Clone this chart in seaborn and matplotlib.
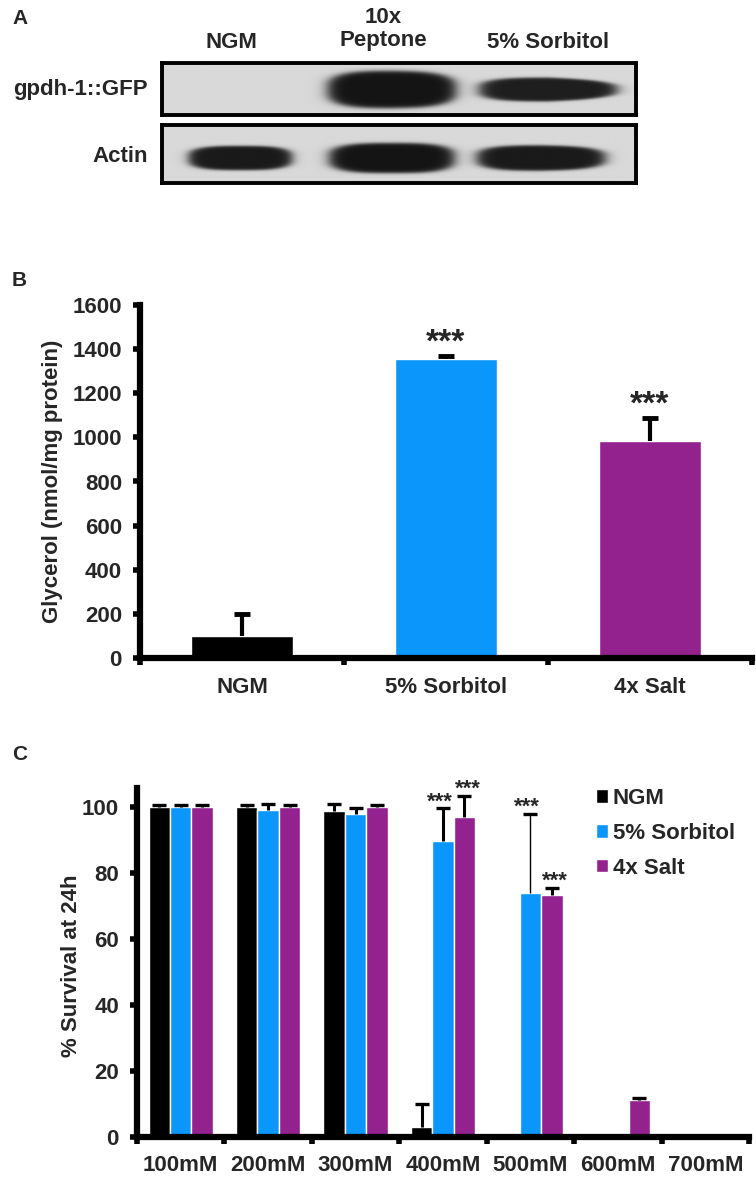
import numpy as np
import pandas as pd
import seaborn as sns
import matplotlib.pyplot as plt

# ---------------- data ----------------
# A: western blot, band darkness per lane (NGM, 10x Peptone, 5% Sorbitol)
blot_lanes = ["NGM", "10x\nPeptone", "5% Sorbitol"]
blot_rows = ["gpdh-1::GFP", "Actin"]
gfp_dark = [0.0, 1.0, 0.95]
gfp_halfwidth = [0.40, 0.41, 0.44]
gfp_halfheight = [0.30, 0.36, 0.23]
gfp_taper = [0.0, 0.05, 0.25]
gfp_shift = [0.0, 0.0, 0.0]
actin_dark = [0.97, 1.0, 0.97]
actin_halfwidth = [0.33, 0.40, 0.41]
actin_halfheight = [0.21, 0.26, 0.22]
actin_taper = [0.0, 0.0, 0.1]
actin_shift = [0.03, 0.0, -0.045]

# B: glycerol
b_conditions = ["NGM", "5% Sorbitol", "4x Salt"]
b_glycerol = [100, 1355, 983]
b_err = [100, 14, 105]

# C: survival at 24h
c_conc = ["100mM", "200mM", "300mM", "400mM", "500mM", "600mM", "700mM"]
c_groups = ["NGM", "5% Sorbitol", "4x Salt"]
ngm_surv = [100, 100, 98.7, 3.1, 0, 0, 0]
ngm_err = [0.5, 0.5, 2.1, 7.0, 0, 0, 0]
sorb_surv = [100, 99.0, 97.8, 89.8, 73.9, 0, 0]
sorb_err = [0.5, 2.0, 2.0, 9.8, 24.0, 0, 0]
salt_surv = [100, 100, 100, 96.9, 73.3, 11.3, 0]
salt_err = [0.5, 0.5, 0.5, 6.5, 2.2, 0.4, 0]
c_stars = [("400mM", "5% Sorbitol"), ("400mM", "4x Salt"),
           ("500mM", "5% Sorbitol"), ("500mM", "4x Salt")]

colors = ["#000000", "#0A96FA", "#93228E"]

# ---------------- style ----------------
sns.set_style("ticks")
plt.rcParams['font.family'] = ['Liberation Sans', 'DejaVu Sans']
plt.rcParams['font.weight'] = 'bold'
plt.rcParams['axes.labelweight'] = 'bold'

W, H = 756, 1179
fig = plt.figure(figsize=(W / 100, H / 100), dpi=100)


def px_axes(x0, y0, x1, y1):
    return fig.add_axes([x0 / W, 1 - y1 / H, (x1 - x0) / W, (y1 - y0) / H])


def blot_image(dark, hw, hh, taper, shift, yc):
    xs = np.linspace(-0.47, 2.56, 700)
    ys = np.linspace(0, 1, 120)
    X, Y = np.meshgrid(xs, ys)
    img = np.full(X.shape, 0.85)
    for i in range(len(dark)):
        if dark[i] == 0:
            continue
        dx = X - i - shift[i]
        h = hh[i] * (1 - taper[i] * np.clip(dx / hw[i], 0, 1.2))
        h = np.maximum(h, 0.02)
        r = (np.abs(dx / hw[i]) ** 3 + np.abs((Y - yc) / h) ** 3) ** (1 / 3)
        v = dark[i] / (1 + np.exp((r - 1) / 0.06))
        img = img - (img - 0.08) * v
    return img


def upper_errorbar(ax, x, y, e, lw, cap, capw):
    _, caps, _ = ax.errorbar(x, y, yerr=[np.zeros(len(e)), e], fmt="none", ecolor="black",
                             elinewidth=lw, capsize=cap, capthick=capw, zorder=3)
    caps[0].set_visible(False)   # no cap at the bar top


# ---------------- panel A ----------------
blot_data = [
    (gfp_dark, gfp_halfwidth, gfp_halfheight, gfp_taper, gfp_shift, 0.51, (162, 63, 636, 115), 90),
    (actin_dark, actin_halfwidth, actin_halfheight, actin_taper, actin_shift, 0.57, (162, 125, 636, 183), 157),
]
for name, (dk, hw, hh, tp, sh, yc, box, ty) in zip(blot_rows, blot_data):
    axb = px_axes(*box)
    axb.imshow(blot_image(dk, hw, hh, tp, sh, yc), cmap="gray", vmin=0, vmax=1,
               extent=(-0.47, 2.56, 1, 0), aspect="auto", interpolation="bilinear")
    axb.set_xlim(-0.47, 2.56)
    axb.set_ylim(1, 0)
    axb.set_xticks([])
    axb.set_yticks([])
    for s in axb.spines.values():
        s.set_visible(True)
        s.set_linewidth(2.8)
        s.set_color("black")
    fig.text(148 / W, 1 - ty / H, name, ha="right", va="center",
             fontsize=16, fontweight="bold")

lane_px = [231, 383, 548]
lane_py = [42, 29, 43]
for lab, lx, ly in zip(blot_lanes, lane_px, lane_py):
    fig.text(lx / W, 1 - ly / H, lab, ha="center", va="center", fontsize=16,
             fontweight="bold", linespacing=1.1)

# ---------------- panel B ----------------
axB = px_axes(140, 305, 752, 658)
df_b = pd.DataFrame({"condition": b_conditions, "glycerol": b_glycerol})
sns.barplot(data=df_b, x="condition", y="glycerol", hue="condition", palette=colors,
            width=0.5, saturation=1, legend=False, ax=axB)
bx = [p.get_x() + p.get_width() / 2 for c in list(axB.containers) for p in c]
upper_errorbar(axB, bx, b_glycerol, b_err, 3, 6, 3.5)
for i in [1, 2]:
    axB.text(bx[i], b_glycerol[i] + b_err[i] + 18, "***", ha="center", va="baseline",
             fontsize=24, fontweight="bold")
axB.set_xlim(-0.5, 2.5)
axB.set_ylim(0, 1600)
axB.set_yticks(range(0, 1601, 200))
axB.set_xlabel("")
axB.set_ylabel("Glycerol (nmol/mg protein)", fontsize=16)
axB.yaxis.set_label_coords(-0.126, 0.5)

# ---------------- panel C ----------------
axC = px_axes(137, 788, 749, 1137)
df_c = pd.DataFrame({
    "conc": c_conc * 3,
    "group": [g for g in c_groups for _ in c_conc],
    "survival": ngm_surv + sorb_surv + salt_surv,
})
sns.barplot(data=df_c, x="conc", y="survival", hue="group", hue_order=c_groups,
            palette=colors, width=0.735, saturation=1, ax=axC)
errs = [ngm_err, sorb_err, salt_err]
vals = [ngm_surv, sorb_surv, salt_surv]
star_dx = {"5% Sorbitol": -2.5, "4x Salt": 2.5}
bar_containers = list(axC.containers)[:3]
for gi, cont in enumerate(bar_containers):
    for ci, p in enumerate(cont):
        if errs[gi][ci] <= 0:
            continue
        x = p.get_x() + p.get_width() / 2
        lw = 1.0 if (c_conc[ci], c_groups[gi]) == ("500mM", "5% Sorbitol") else 2.2
        upper_errorbar(axC, [x], [vals[gi][ci]], [errs[gi][ci]], lw, 5, 2.4)
        if (c_conc[ci], c_groups[gi]) in c_stars:
            axC.annotate("***", (x, vals[gi][ci] + errs[gi][ci] + 0.3),
                         xytext=(star_dx[c_groups[gi]], 0), textcoords="offset points",
                         ha="center", va="baseline", fontsize=16, fontweight="bold")
axC.set_xlim(-0.5, 6.5)
axC.set_ylim(0, 105.8)
axC.set_yticks(range(0, 101, 20))
axC.set_xlabel("")
axC.set_ylabel("% Survival at 24h", fontsize=16)
axC.yaxis.set_label_coords(-0.09, 0.49)
sns.move_legend(axC, "upper left", bbox_to_anchor=(596 / W, 1 - 788 / H),
                bbox_transform=fig.transFigure, frameon=False, title=None,
                fontsize=16, handlelength=0.55, handleheight=0.55, handletextpad=0.2,
                labelspacing=0.62, borderpad=0, borderaxespad=0)

# shared axis styling
for ax, ncat, xpad in [(axB, 3, 14), (axC, 7, 13)]:
    sns.despine(ax=ax)
    for s in ["left", "bottom"]:
        ax.spines[s].set_linewidth(4.5)
        ax.spines[s].set_color("black")
    ax.set_xticks(np.arange(-0.5, ncat), minor=True)
    ax.tick_params(axis="x", which="major", length=0, pad=xpad, labelsize=16)
    ax.tick_params(axis="x", which="minor", length=5, width=4, direction="out", color="black")
    ax.tick_params(axis="y", which="major", length=5, width=4, direction="out",
                   pad=8, labelsize=16, color="black")
    for t in ax.get_xticklabels() + ax.get_yticklabels():
        t.set_fontweight("bold")

for lab, ly in [("A", 18), ("B", 280), ("C", 755)]:
    fig.text(12 / W, 1 - ly / H, lab, ha="left", va="center", fontsize=15, fontweight="bold")

fig.savefig("out.png", dpi=100)
